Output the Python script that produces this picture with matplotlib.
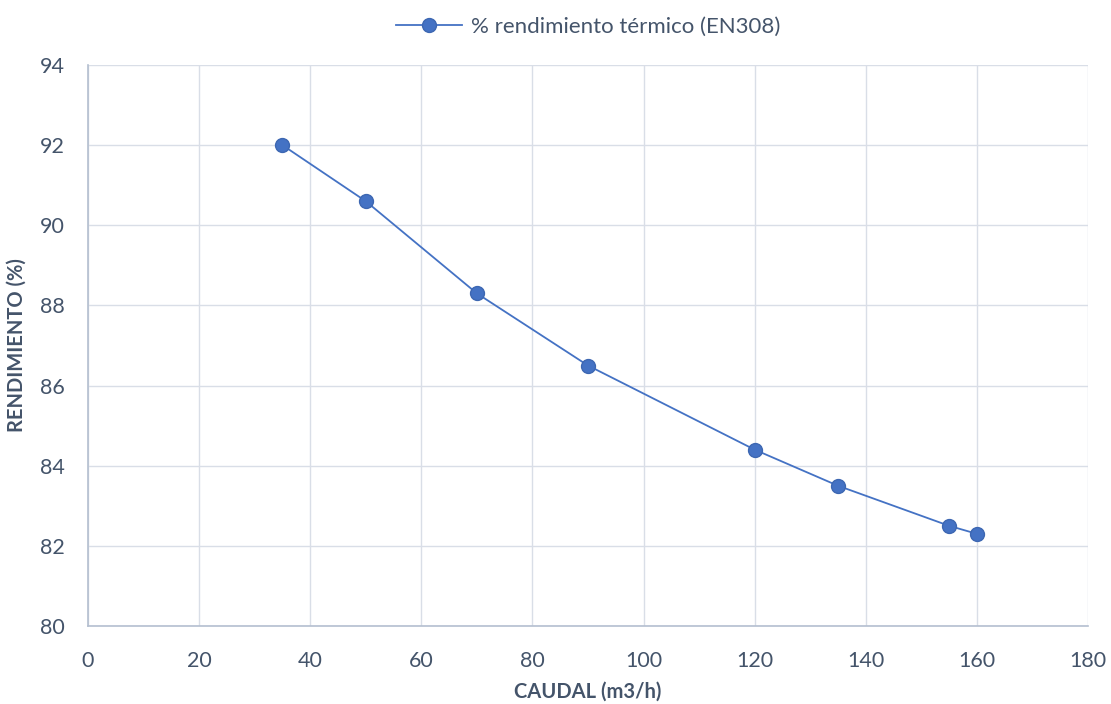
import matplotlib.pyplot as plt

# datos
caudal = [35, 50, 70, 90, 120, 135, 155, 160]
rendimiento = [92.0, 90.6, 88.3, 86.5, 84.4, 83.5, 82.5, 82.3]
x_ticks = [0, 20, 40, 60, 80, 100, 120, 140, 160, 180]
y_ticks = [80, 82, 84, 86, 88, 90, 92, 94]

txt = '#44546A'
plt.rcParams['font.family'] = ['Lato', 'DejaVu Sans']

fig = plt.figure(figsize=(11.11, 7.04), dpi=100)
ax = fig.add_axes([0.0792, 0.1108, 0.9001, 0.7969])

ax.plot(caudal, rendimiento, color='#4472C4', lw=1.3, marker='o', ms=10,
        mfc='#4472C4', mec='#3D67B2', label='% rendimiento térmico (EN308)')

ax.set_xlim(0, 180)
ax.set_ylim(80, 94)
ax.set_xticks(x_ticks)
ax.set_yticks(y_ticks)
ax.grid(True, color='#D9DEE7', lw=1)
ax.set_axisbelow(True)
for s in ['top', 'right']:
    ax.spines[s].set_visible(False)
for s in ['left', 'bottom']:
    ax.spines[s].set_color('#B4BFD0')
    ax.spines[s].set_linewidth(1.2)
ax.tick_params(length=0, labelsize=15.5, colors=txt)
ax.tick_params(axis='x', pad=18)
ax.tick_params(axis='y', pad=17)

ax.set_xlabel('CAUDAL (m3/h)', fontsize=14.5, fontweight='bold', color=txt)
ax.set_ylabel('RENDIMIENTO (%)', fontsize=14.5, fontweight='bold', color=txt)
ax.xaxis.set_label_coords(0.5, -0.099)
ax.yaxis.set_label_coords(-0.061, 0.5)

leg = ax.legend(loc='lower center', bbox_to_anchor=(0.5, 1.015), frameon=False,
                fontsize=16, handlelength=3, handletextpad=0.4)
for t in leg.get_texts():
    t.set_color(txt)

fig.savefig('out.png', dpi=100)
